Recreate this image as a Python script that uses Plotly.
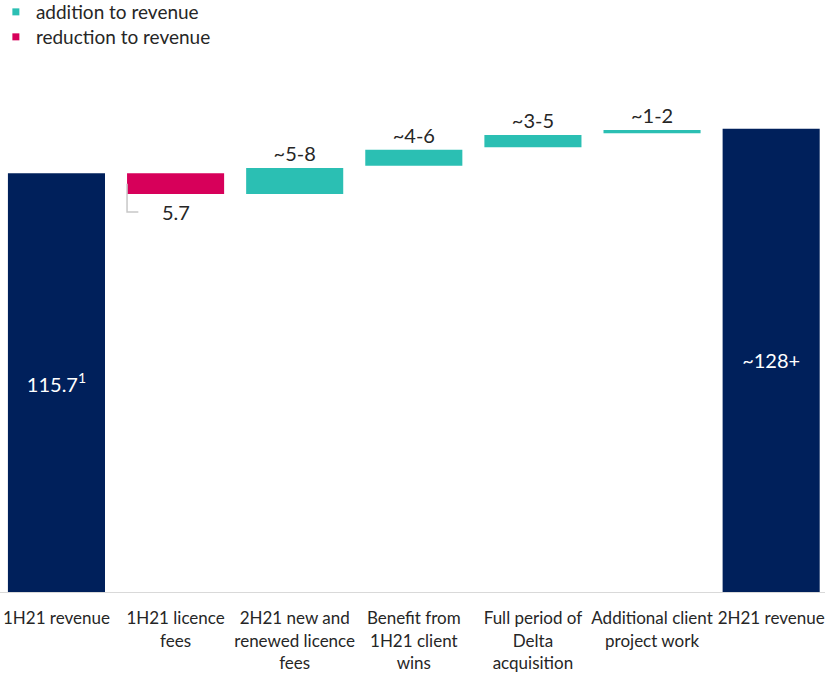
import plotly.graph_objects as go

# Revenue bridge from 1H21 to 2H21 (GBP m)
categories = [
    "1H21 revenue",
    "1H21 licence fees",
    "2H21 new and renewed licence fees",
    "Benefit from 1H21 client wins",
    "Full period of Delta acquisition",
    "Additional client project work",
    "2H21 revenue",
]
tick_labels = [
    "1H21 revenue",
    "1H21 licence<br>fees",
    "2H21 new and<br>renewed licence<br>fees",
    "Benefit from<br>1H21 client<br>wins",
    "Full period of<br>Delta<br>acquisition",
    "Additional client<br>project work",
    "2H21 revenue",
]

total_values = [115.7, 128.0]
total_labels = ["115.7<sup>1</sup>", "~128+"]

reduction_values = [5.7]
reduction_labels = ["5.7"]

addition_base = [110.0, 117.8, 122.9, 126.8]
addition_size = [7.2, 4.4, 3.4, 0.9]
addition_labels = ["~5-8", "~4-6", "~3-5", "~1-2"]

NAVY = "#00205b"
TEAL = "#2bbfb3"
RED = "#d7005a"
TEXT = "#262626"
FONT = "Lato, 'Open Sans', sans-serif"

x_pos = list(range(len(categories)))
total_x = [x_pos[0], x_pos[-1]]
reduction_x = [x_pos[1]]
addition_x = x_pos[2:6]
bar_w = 0.815

reduction_base = [total_values[0] - v for v in reduction_values]

fig = go.Figure()

fig.add_trace(go.Bar(
    x=total_x, y=total_values, width=bar_w,
    marker=dict(color=NAVY, line=dict(width=0)),
    text=total_labels, textposition="inside", insidetextanchor="middle",
    textfont=dict(color="white", size=20, family=FONT),
    constraintext="none", showlegend=False, hoverinfo="skip",
))

fig.add_trace(go.Bar(
    x=reduction_x, y=reduction_values, base=reduction_base, width=bar_w,
    marker=dict(color=RED, line=dict(width=0)),
    showlegend=False, hoverinfo="skip",
))

fig.add_trace(go.Bar(
    x=addition_x, y=addition_size, base=addition_base, width=bar_w,
    marker=dict(color=TEAL, line=dict(width=0)),
    text=addition_labels, textposition="outside",
    textfont=dict(color=TEXT, size=20, family=FONT),
    constraintext="none", cliponaxis=False,
    showlegend=False, hoverinfo="skip",
))

# Leader line from the reduction bar to its label below
label_y = reduction_base[0] - 5.0
left_edge = reduction_x[0] - bar_w / 2
fig.add_trace(go.Scatter(
    x=[left_edge, left_edge, left_edge + 0.095],
    y=[reduction_base[0] + reduction_values[0] / 2, label_y, label_y],
    mode="lines", line=dict(color="#c8c8c8", width=1.5),
    showlegend=False, hoverinfo="skip",
))
fig.add_annotation(
    x=reduction_x[0], y=label_y, text=reduction_labels[0], showarrow=False,
    font=dict(color=TEXT, size=20, family=FONT), xanchor="center", yanchor="middle",
)

# Legend entries, one legend box each
fig.add_trace(go.Scatter(
    x=[None], y=[None], mode="markers", name="addition to revenue",
    marker=dict(symbol="square", size=7, color=TEAL), legend="legend",
))
fig.add_trace(go.Scatter(
    x=[None], y=[None], mode="markers", name="reduction to revenue",
    marker=dict(symbol="square", size=7, color=RED), legend="legend2",
))

legend_style = dict(
    xanchor="left", yanchor="top",
    font=dict(size=19, color=TEXT, family=FONT),
    bgcolor="rgba(0,0,0,0)", itemwidth=30,
)

fig.update_layout(
    width=825, height=674,
    margin=dict(l=0, r=0, t=0, b=82, autoexpand=False),
    paper_bgcolor="white", plot_bgcolor="white",
    font=dict(family=FONT, color=TEXT),
    barmode="overlay",
    legend=dict(x=-0.005, y=1.0118, **legend_style),
    legend2=dict(x=-0.005, y=0.9696, **legend_style),
    xaxis=dict(
        range=[-0.474, 6.452], tickvals=x_pos, ticktext=tick_labels,
        showgrid=False, zeroline=False, showline=True,
        linecolor="#d9d9d9", linewidth=1, ticks="",
        ticklabelstandoff=11, automargin=False,
        tickfont=dict(size=17, color=TEXT, family=FONT),
        fixedrange=True,
    ),
    yaxis=dict(
        range=[0, 163.6], visible=False, showgrid=False, zeroline=False,
        fixedrange=True,
    ),
)

fig.write_html("out.html")
